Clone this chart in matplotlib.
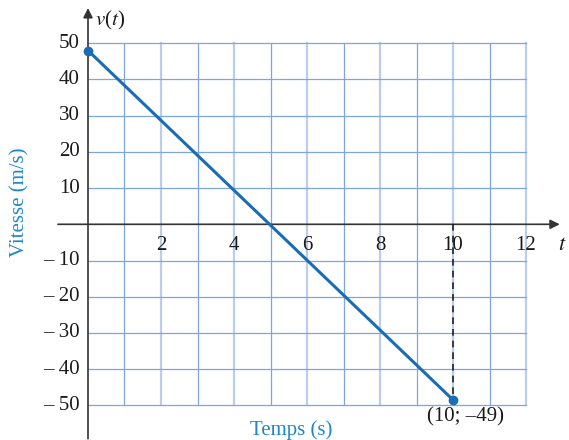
import numpy as np
import matplotlib.pyplot as plt

plt.rcParams['font.family'] = ['Liberation Serif', 'DejaVu Serif']

# data
t_pts = [0, 10]
v_pts = [48, -48.5]
t_ticks = [2, 4, 6, 8, 10, 12]
v_ticks = [50, 40, 30, 20, 10, -10, -20, -30, -40, -50]
v_labels = ["50", "40", "30", "20", "10", "\u2013 10", "\u2013 20", "\u2013 30", "\u2013 40", "\u2013 50"]
end_label = "(10; \u201349)"

grid_c = "#7fa6dc"
line_c = "#1a6db5"
lab_c = "#1f87c9"
ax_c = "#333333"
txt_c = "#1a1a1a"
fs = 15

fig = plt.figure(figsize=(5.69, 4.40), dpi=100)
ax = fig.add_axes([0, 0, 1, 1])
ax.set_xlim(-88 / 36.5, (569 - 88) / 36.5)
ax.set_ylim((224.3 - 440) / 3.62, 224.3 / 3.62)
ax.axis("off")

# grid
for t in range(1, 13):
    lw, a = (1.6, 0.55) if t % 2 == 0 else (0.9, 1.0)
    ax.plot([t, t], [-50, 50], color=grid_c, lw=lw, alpha=a, zorder=1)
for v in range(-50, 51, 10):
    if v == 0:
        continue
    ax.plot([0, 12], [v, v], color=grid_c, lw=0.9, zorder=1)

# axes with arrows
ax.annotate("", xy=(13.0, 0), xytext=(-0.9, 0),
            arrowprops=dict(arrowstyle="-|>", color=ax_c, lw=1.2, mutation_scale=14), zorder=3)
ax.annotate("", xy=(0, 60.5), xytext=(0, -60),
            arrowprops=dict(arrowstyle="-|>", color=ax_c, lw=1.2, mutation_scale=14), zorder=3)

# dashed drop line
ax.plot([10, 10], [0, v_pts[1]], color="#222222", lw=1.2, ls=(0, (4, 3)), zorder=4)

# data line
ax.plot(t_pts, v_pts, color=line_c, lw=2.2, zorder=5)
ax.plot(t_pts, v_pts, "o", color=line_c, ms=6, zorder=6)

# tick labels
for t in t_ticks:
    ax.text(t, -5.8, str(t), ha="center", va="center", fontsize=fs, color=txt_c)
for v, s in zip(v_ticks, v_labels):
    ax.text(-0.22, v, s, ha="right", va="center", fontsize=fs, color=txt_c)

ax.text(0.6, 56.4, "$v$($t$)", ha="center", va="center", fontsize=fs, color=txt_c,
        math_fontfamily="stix")
ax.text(13.0, -5.8, "$t$", ha="center", va="center", fontsize=fs + 1, color=txt_c,
        math_fontfamily="stix")
ax.text(10.33, -53.2, end_label, ha="center", va="center", fontsize=fs, color=txt_c)

ax.text(-1.86, 6.0, "Vitesse (m/s)", rotation=90, ha="center", va="center",
        fontsize=fs, color=lab_c)
ax.text(5.56, -56.8, "Temps (s)", ha="center", va="center", fontsize=fs, color=lab_c)

fig.savefig("out.png", dpi=100)
